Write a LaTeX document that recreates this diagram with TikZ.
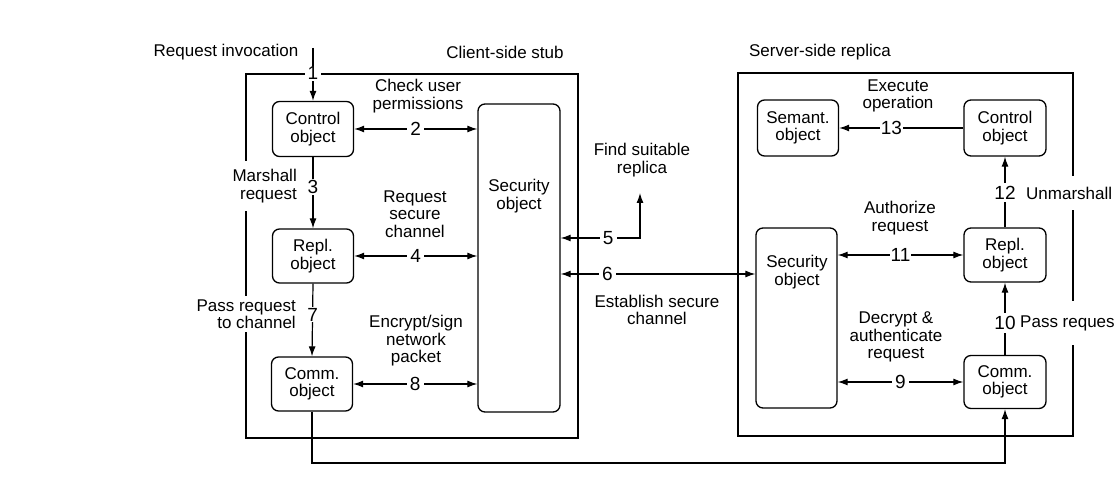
\documentclass[tikz,border=0pt]{standalone}
\usepackage{fontspec}
\setmainfont{Liberation Sans}
\usetikzlibrary{arrows.meta}
\begin{document}
\begin{tikzpicture}[x=1pt,y=-1pt,
  every node/.style={font=\fontsize{17}{17.5}\selectfont},
  frame/.style={draw, line width=1.3pt, inner sep=0pt},
  obj/.style={draw, rounded corners=7pt, line width=1.3pt, minimum width=81pt, minimum height=55pt, align=center, inner sep=0pt},
  lbl/.style={align=center, inner sep=0pt},
  side/.style={align=right, fill=white, inner xsep=2pt},
  num/.style={fill=white, inner xsep=3pt, inner ysep=1pt, font=\fontsize{19}{20}\selectfont},
  arr/.style={-{Latex[length=10pt,width=7pt]}, line width=1.2pt},
  darr/.style={{Latex[length=10pt,width=7pt]}-{Latex[length=10pt,width=7pt]}, line width=1.2pt}]
\path[use as bounding box, fill=white] (0,0) rectangle (1114,494);

% frames
\node[frame, minimum width=332pt, minimum height=364pt] (client) at (412,256) {};
\node[frame, minimum width=335pt, minimum height=363pt] (server) at (905.5,254.5) {};

% titles
\node[lbl] (tReq) at (226,52) {Request invocation};
\node[lbl] (tCli) at (505,52) {Client-side stub};
\node[lbl] (tSrv) at (820,52) {Server-side replica};

% client objects
\node[obj] (ctrlC) at (313,129) {Control\\object};
\node[obj, minimum height=54pt] (replC) at (313,256) {Repl.\\object};
\node[obj, minimum height=54pt] (commC) at (312,384) {Comm.\\object};
\node[obj, minimum width=82pt, minimum height=308pt] (secC) at (519,258) {};
\node[lbl] (secCt) at (519,196) {Security\\object};

% server objects
\node[obj, minimum height=56pt] (semS) at (798,128) {Semant.\\object};
\node[obj, minimum height=56pt, minimum width=82pt] (ctrlS) at (1005,128) {Control\\object};
\node[obj, minimum height=54pt, minimum width=82pt] (replS) at (1005,255) {Repl.\\object};
\node[obj, minimum height=53pt, minimum width=82pt] (commS) at (1005,382) {Comm.\\object};
\node[obj, minimum width=81pt, minimum height=180pt] (secS) at (796.5,318) {};
\node[lbl] (secSt) at (797,272) {Security\\object};

% helper coordinates
\coordinate (in1) at (313,48);
\coordinate (c5a) at (640,238);
\coordinate (c5b) at (640,193);
\coordinate (y6) at (0,274);
\coordinate (ybot) at (0,463);

% side labels breaking frame borders
\node[side, anchor=east, inner ysep=8pt] (lMar) at (299,186) {Marshall\\request};
\node[side, anchor=east, inner ysep=3pt] (lPass) at (298,314) {Pass request\\to channel};
\node[lbl, anchor=west, fill=white, inner ysep=11pt] (lUnm) at (1026,193) {Unmarshall};
\node[lbl, anchor=west, fill=white, inner ysep=14pt] (lPassS) at (1020,323) {Pass reques};

% text labels
\node[lbl] (lChk) at (418,96) {Check user\\permissions};
\node[lbl] (lRsc) at (415,214) {Request\\secure\\channel};
\node[lbl] (lEnc) at (416,341) {Encrypt/sign\\network\\packet};
\node[lbl] (lFind) at (642,160) {Find suitable\\replica};
\node[lbl] (lEst) at (657,310) {Establish secure\\channel};
\node[lbl] (lExe) at (898,96) {Execute\\operation};
\node[lbl] (lAuth) at (900,218) {Authorize\\request};
\node[lbl] (lDec) at (896,337) {Decrypt \&\\authenticate\\request};

% client connectors
\draw[arr] (in1) -- node[num, pos=0.48] {1} (ctrlC.north);
\draw[darr] (ctrlC.east) -- node[num] {2} (ctrlC.east -| secC.west);
\draw[arr] (ctrlC.south) -- node[num, pos=0.42] {3} (replC.north);
\draw[darr] (replC.east) -- node[num] {4} (replC.east -| secC.west);
\draw[arr] (replC.south) -- node[num, pos=0.43] {7} (commC.north);
\draw[darr] (commC.east) -- node[num] {8} (commC.east -| secC.west);

% between
\draw[darr] (secC.east |- c5a) -- node[num, pos=0.6] {5} (c5a) -- (c5b);
\draw[darr] (secC.east |- y6) -- node[num, pos=0.24] {6} (secS.west |- y6);

% server connectors
\draw[arr] (ctrlS.west) -- node[num, pos=0.58, inner xsep=1pt] {13} (semS.east);
\draw[darr] (secS.east |- replS.west) -- node[num, inner xsep=1pt] {11} (replS.west);
\draw[darr] (secS.east |- commS.west) -- node[num] {9} (commS.west);
\draw[arr] (replS.north) -- node[num, pos=0.49, inner ysep=3pt, inner xsep=1pt] {12} (ctrlS.south);
\draw[arr] (commS.north) -- node[num, pos=0.44, inner ysep=3pt, inner xsep=1pt] {10} (replS.south);

% bottom connector
\draw[arr] (commC.south) -- (commC.south |- ybot) -- (commS.south |- ybot) -- (commS.south);
\end{tikzpicture}
\end{document}
